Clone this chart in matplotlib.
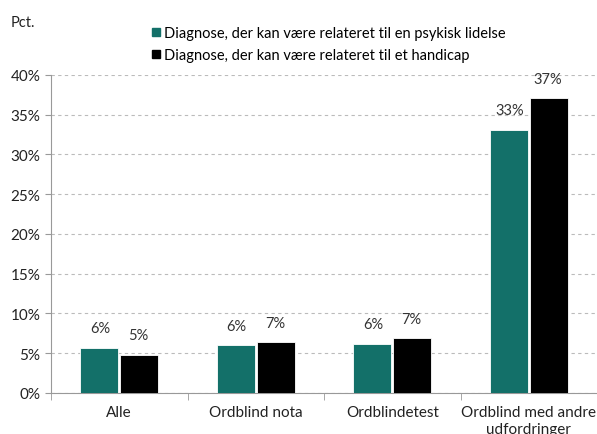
import matplotlib.pyplot as plt
import numpy as np
from matplotlib.ticker import FuncFormatter, MultipleLocator
from matplotlib.lines import Line2D

plt.rcParams['font.family'] = ['Lato', 'DejaVu Sans']

categories = ['Alle', 'Ordblind nota', 'Ordblindetest', 'Ordblind med andre\nudfordringer']
psykisk = [5.7, 6.0, 6.2, 33.1]
handicap = [4.8, 6.4, 6.9, 37.1]
psykisk_labels = ['6%', '6%', '6%', '33%']
handicap_labels = ['5%', '7%', '7%', '37%']
series_names = ['Diagnose, der kan være relateret til en psykisk lidelse',
                'Diagnose, der kan være relateret til et handicap']

teal = '#137069'
black = '#000000'

fig = plt.figure(figsize=(5.97, 4.35), dpi=100)
ax = fig.add_axes([0.0854, 0.0943, 0.95, 0.731])

x = np.arange(len(categories))
w = 0.28
ax.bar(x - w / 2 - 0.006, psykisk, w, color=teal, edgecolor='white', linewidth=0.6, zorder=3)
ax.bar(x + w / 2 + 0.006, handicap, w, color=black, edgecolor='white', linewidth=0.6, zorder=3)

for i in range(len(categories)):
    ax.annotate(psykisk_labels[i], (x[i] - w / 2, psykisk[i]), xytext=(0, 9),
                textcoords='offset points', ha='center', va='bottom', fontsize=10.5, color='#333333')
    ax.annotate(handicap_labels[i], (x[i] + w / 2, handicap[i]), xytext=(0, 9),
                textcoords='offset points', ha='center', va='bottom', fontsize=10.5, color='#333333')

ax.set_xlim(-0.5, 3.654)
ax.set_ylim(0, 40)
ax.yaxis.set_major_locator(MultipleLocator(5))
ax.yaxis.set_major_formatter(FuncFormatter(lambda v, p: f'{v:.0f}%'))
ax.grid(axis='y', linestyle=(0, (3, 3)), color='#bbbbbb', linewidth=0.8, zorder=0)

ax.set_xticks(x)
ax.set_xticklabels(categories, fontsize=11, color='#222222', linespacing=1.25)
ax.tick_params(axis='x', length=0, pad=9)
ax.set_xticks(np.arange(len(categories) + 1) - 0.5, minor=True)
ax.tick_params(axis='x', which='minor', length=5, color='#999999')
ax.tick_params(axis='y', labelsize=11, length=4, color='#999999', labelcolor='#222222')

for s in ['top', 'right']:
    ax.spines[s].set_visible(False)
ax.spines['left'].set_color('#999999')
ax.spines['bottom'].set_color('#999999')

fig.text(0.017, 0.948, 'Pct.', fontsize=10.5, color='#222222', va='center')

handles = [Line2D([], [], marker='s', linestyle='none', color=teal, markersize=6),
           Line2D([], [], marker='s', linestyle='none', color=black, markersize=6)]
fig.legend(handles, series_names, loc='upper left', bbox_to_anchor=(0.23, 0.968),
           frameon=False, fontsize=10.5, handletextpad=0.1, labelspacing=0.55, handlelength=0.8)

fig.savefig('out.png', dpi=100)
